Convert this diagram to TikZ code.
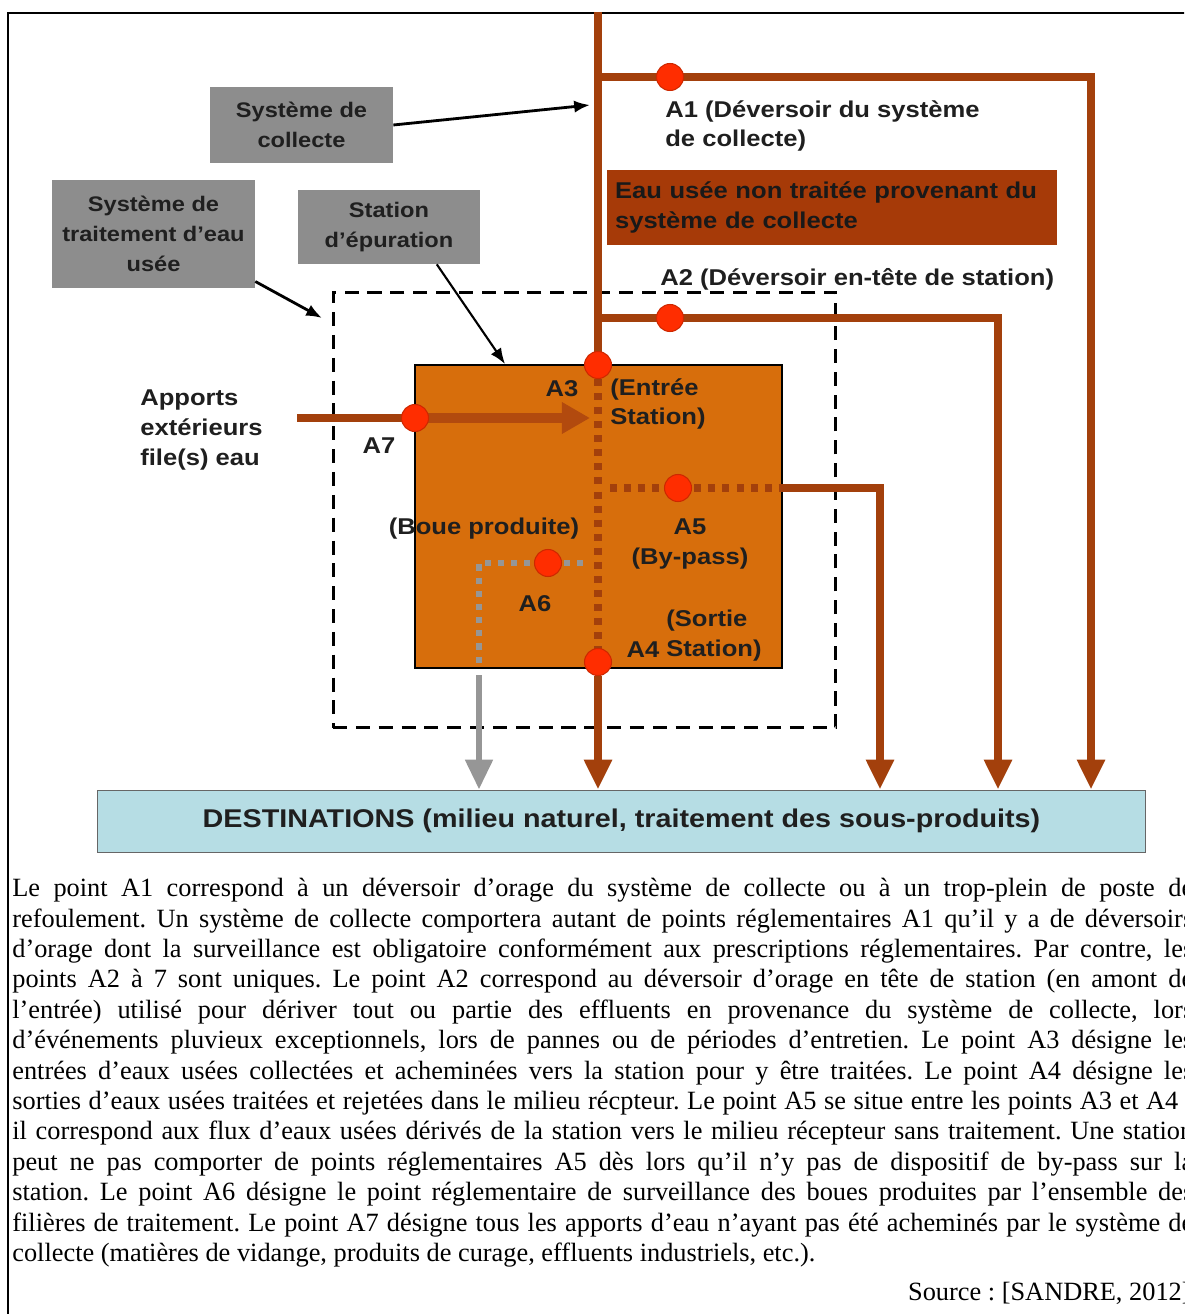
\documentclass[tikz,border=0pt]{standalone}
\usepackage{fontspec}
\setmainfont{Liberation Serif}
\newfontfamily\diagfont[FakeStretch=1.12]{Liberation Sans}
\usetikzlibrary{arrows.meta}

\definecolor{pipecol}{RGB}{163,64,12}
\definecolor{arrowcol}{RGB}{178,74,14}
\definecolor{stationcol}{RGB}{215,110,12}
\definecolor{rawcol}{RGB}{166,58,8}
\definecolor{boxgray}{RGB}{141,141,141}
\definecolor{sludgecol}{RGB}{150,150,150}
\definecolor{destcol}{RGB}{182,221,228}
\definecolor{dotred}{RGB}{255,45,0}
\definecolor{dotedge}{RGB}{205,40,0}

\newcommand{\fullline}[1]{\makebox[23.62cm][s]{#1}}

\tikzset{
  flow/.style={draw=pipecol, line width=4.5pt},
  dotflow/.style={draw=pipecol, line width=4.5pt, dash pattern=on 4pt off 4pt},
  sludge/.style={draw=sludgecol, line width=3.8pt, dash pattern=on 3.5pt off 4pt},
  outlet/.style={-{Triangle[length=17pt,width=15pt]}},
  pt/.style={circle, fill=dotred, draw=dotedge, line width=0.6pt, minimum size=0.54cm, inner sep=0pt},
  lbl/.style={font=\diagfont\bfseries\fontsize{13}{17}\selectfont, text=black!88, inner sep=0pt},
  graybox/.style={font=\diagfont\bfseries\fontsize{12}{17}\selectfont, text=black!88, inner sep=0pt, fill=boxgray, align=center},
  pointer/.style={-{Latex[length=9pt,width=7pt]}, line width=1.6pt},
}

\begin{document}
\frenchspacing
\begin{tikzpicture}[x=0.02cm, y=-0.02cm]
  \useasboundingbox (0,0) rectangle (1184,1314);
  \clip (0,0) rectangle (1184,1314);

  % frame
  \draw[line width=1.1pt] (8,1320) -- (8,13) -- (1190,13);

  % points of the network
  \coordinate (in) at (598,12);
  \coordinate (j1) at (598,77);
  \coordinate (p1) at (670,77);
  \coordinate (k1) at (1091,77);
  \coordinate (j2) at (598,318);
  \coordinate (p2) at (670,318);
  \coordinate (k2) at (998,318);
  \coordinate (p3) at (598,365);
  \coordinate (p4) at (598,662);
  \coordinate (o4) at (598,676);
  \coordinate (j5) at (610,488);
  \coordinate (p5) at (678,488);
  \coordinate (e5) at (782,488);
  \coordinate (k5) at (880,488);
  \coordinate (j6) at (583,563);
  \coordinate (p6) at (548,563);
  \coordinate (k6) at (479,563);
  \coordinate (e6) at (479,668);
  \coordinate (o6) at (479,675);
  \coordinate (ext) at (297,418);
  \coordinate (p7) at (415,418);
  \coordinate (t7) at (590,418);

  % boxes
  \node[draw, line width=1.7pt, dash pattern=on 8pt off 5pt, minimum width=10.06cm, minimum height=8.72cm] (wwtp) at (584.5,510) {};
  \node[draw, line width=1.4pt, fill=stationcol, minimum width=7.34cm, minimum height=6.06cm] (stp) at (598.5,516.5) {};
  \node[draw=black!60, line width=0.5pt, fill=destcol, minimum width=20.98cm, minimum height=1.24cm,
        font=\diagfont\bfseries\fontsize{14.6}{17}\selectfont, text=black!88] (dest) at (621.5,821)
        {DESTINATIONS (milieu naturel, traitement des sous-produits)};
  \node[font=\diagfont\bfseries\fontsize{13}{17}\selectfont, text=black!90, inner sep=0pt, fill=rawcol, align=left,
        text width=8.68cm, inner xsep=0.16cm, minimum height=1.5cm] (raw) at (832,207.5)
        {Eau usée non traitée provenant du\\système de collecte};

  % flows
  \draw[flow] (in) -- (p3);
  \draw[flow, outlet] (j1) -- (k1) -- (k1 |- dest.north);
  \draw[flow, outlet] (j2) -- (k2) -- (k2 |- dest.north);
  \draw[dotflow] (p3) -- (p4);
  \draw[dotflow] (j5) -- (e5);
  \draw[flow, outlet] (e5) -- (k5) -- (k5 |- dest.north);
  \draw[flow, outlet] (o4) -- (o4 |- dest.north);
  \draw[sludge] (j6) -- (k6) -- (e6);
  \draw[draw=sludgecol, line width=3.8pt, outlet] (o6) -- (o6 |- dest.north);
  \draw[flow] (ext) -- (p7);
  \draw[draw=arrowcol, line width=5.5pt, -{Triangle[length=16pt,width=17pt]}] (p7) -- (t7);

  % regulatory points
  \node[pt] (a1) at (p1) {};
  \node[pt] (a2) at (p2) {};
  \node[pt] (a3) at (p3) {};
  \node[pt] (a4) at (p4) {};
  \node[pt] (a5) at (p5) {};
  \node[pt] (a6) at (p6) {};
  \node[pt] (a7) at (p7) {};

  % grey boxes and pointers
  \node[graybox, minimum width=3.66cm, minimum height=1.52cm] (collecte) at (301.5,125) {Système de\\collecte};
  \node[graybox, minimum width=4.06cm, minimum height=2.16cm] (traitement) at (153.5,234) {Système de\\traitement d’eau\\usée};
  \node[graybox, minimum width=3.64cm, minimum height=1.48cm] (station) at (389,227) {Station\\d’épuration};
  \coordinate (hit1) at (590,105);
  \coordinate (hit2) at (322,318);
  \coordinate (hit3) at (505,364);
  \draw[pointer] (collecte.east) -- (hit1);
  \draw[pointer] (traitement.-25) -- (hit2);
  \draw[pointer, line width=1.2pt] (station.-38) -- (hit3);

  % labels
  \node[lbl, anchor=west, align=left] (lab1) at (665,126) {A1 (Déversoir du système\\de collecte)};
  \node[lbl, anchor=west] (lab2) at (660,279) {A2 (Déversoir en-tête de station)};
  \node[lbl] (lab3) at (562,389) {A3};
  \node[lbl, anchor=west, align=left] (lab3b) at (610,404) {(Entrée\\Station)};
  \node[lbl] (lab7) at (379,446) {A7};
  \node[lbl, anchor=west, align=left] (labext) at (140,430) {Apports\\extérieurs\\file(s) eau};
  \node[lbl] (lab6b) at (484,529) {(Boue produite)};
  \node[lbl, align=center] (lab5) at (690,544) {A5\\(By-pass)};
  \node[lbl] (lab6) at (535,604) {A6};
  \node[lbl, anchor=west, align=left] (lab4b) at (666,636) {(Sortie\\Station)};
  \node[lbl] (lab4) at (643,650) {A4};

  % text below the figure
  \node[anchor=north west, inner sep=0pt, align=left, font=\fontsize{15}{17.3}\selectfont] (body) at (12,878) {%
    \fullline{Le point A1 correspond à un déversoir d’orage du système de collecte ou à un trop-plein de poste de}\\
    \fullline{refoulement. Un système de collecte comportera autant de points réglementaires A1 qu’il y a de déversoirs}\\
    \fullline{d’orage dont la surveillance est obligatoire conformément aux prescriptions réglementaires. Par contre, les}\\
    \fullline{points A2 à 7 sont uniques. Le point A2 correspond au déversoir d’orage en tête de station (en amont de}\\
    \fullline{l’entrée) utilisé pour dériver tout ou partie des effluents en provenance du système de collecte, lors}\\
    \fullline{d’événements pluvieux exceptionnels, lors de pannes ou de périodes d’entretien. Le point A3 désigne les}\\
    \fullline{entrées d’eaux usées collectées et acheminées vers la station pour y être traitées. Le point A4 désigne les}\\
    \fullline{sorties d’eaux usées traitées et rejetées dans le milieu récpteur. Le point A5 se situe entre les points A3 et A4 ;}\\
    \fullline{il correspond aux flux d’eaux usées dérivés de la station vers le milieu récepteur sans traitement. Une station}\\
    \fullline{peut ne pas comporter de points réglementaires A5 dès lors qu’il n’y pas de dispositif de by-pass sur la}\\
    \fullline{station. Le point A6 désigne le point réglementaire de surveillance des boues produites par l’ensemble des}\\
    \fullline{filières de traitement. Le point A7 désigne tous les apports d’eau n’ayant pas été acheminés par le système de}\\
    collecte (matières de vidange, produits de curage, effluents industriels, etc.).};
  \node[anchor=base east, inner sep=0pt, font=\fontsize{15}{17.3}\selectfont] (src) at (1191,1300) {Source : [SANDRE, 2012]};
\end{tikzpicture}
\end{document}
